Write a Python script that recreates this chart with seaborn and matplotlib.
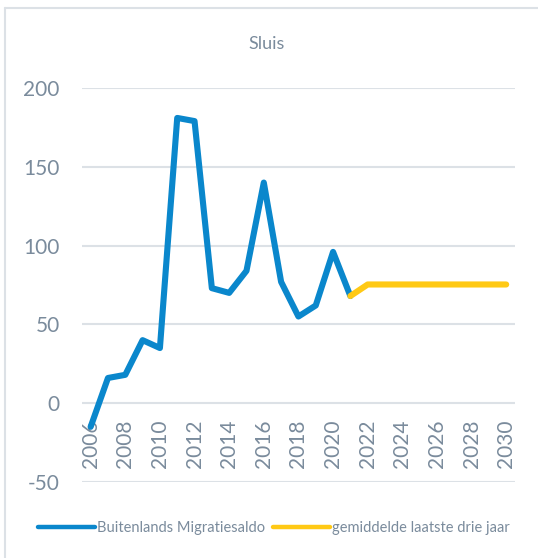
import matplotlib
matplotlib.use("Agg")
import matplotlib.pyplot as plt
from matplotlib.lines import Line2D
import seaborn as sns
import pandas as pd

# Net foreign migration for Sluis, plus the three-year average carried forward
years = [2006, 2007, 2008, 2009, 2010, 2011, 2012, 2013, 2014, 2015,
         2016, 2017, 2018, 2019, 2020, 2021]
migratiesaldo = [-15, 16, 18, 40, 35, 181, 179, 73, 70, 84,
                 140, 77, 55, 62, 96, 68]
avg_years = [2021, 2022, 2023, 2024, 2025, 2026, 2027, 2028, 2029, 2030]
gemiddelde = [68] + [75.33] * 9
xticks = list(range(2006, 2031, 2))
yticks = [-50, 0, 50, 100, 150, 200]

BLUE = "#0A87CC"
YELLOW = "#FFC915"
TEXT = "#7A8B9C"
GRID = "#DCE1E6"

sns.set_theme(style="white")
plt.rcParams["font.family"] = ["Lato", "DejaVu Sans"]
plt.rcParams["axes.unicode_minus"] = False

fig = plt.figure(figsize=(5.38, 5.58), dpi=100)
ax = fig.add_axes([0.1524, 0.1362, 0.8046, 0.7061])

df_hist = pd.DataFrame({"jaar": years, "saldo": migratiesaldo})
df_avg = pd.DataFrame({"jaar": avg_years, "saldo": gemiddelde})

sns.lineplot(data=df_hist, x="jaar", y="saldo", ax=ax, color=BLUE,
             linewidth=4.4, solid_capstyle="round", zorder=3)
sns.lineplot(data=df_avg, x="jaar", y="saldo", ax=ax, color=YELLOW,
             linewidth=4.4, solid_capstyle="round", zorder=4)

for s in ax.spines.values():
    s.set_visible(False)
# category labels sit at the zero line
ax.spines["bottom"].set_position(("data", 0))

ax.set_xlim(2005.5, 2030.5)
ax.set_ylim(-50, 200)
ax.set_yticks(yticks)
ax.set_xticks(xticks)
ax.set_xticklabels([str(x) for x in xticks], rotation=90, va="top")
ax.set_xlabel("")
ax.set_ylabel("")

ax.grid(axis="y", color=GRID, linewidth=1.5)
ax.grid(axis="x", visible=False)
ax.set_axisbelow(True)
ax.tick_params(axis="x", length=0, pad=12, labelsize=15, colors=TEXT,
               labelrotation=90)
ax.tick_params(axis="y", length=0, pad=16, labelsize=15, colors=TEXT)

fig.text(267 / 538, 1 - 44 / 558, "Sluis", ha="center", va="center",
         fontsize=13, color=TEXT)

handles = [
    Line2D([], [], color=BLUE, linewidth=3.2, solid_capstyle="round"),
    Line2D([], [], color=YELLOW, linewidth=3.2, solid_capstyle="round"),
]
fig.legend(handles, ["Buitenlands Migratiesaldo", "gemiddelde laatste drie jaar"],
           loc="center", bbox_to_anchor=(274 / 538, 1 - 528 / 558), ncol=2,
           frameon=False, fontsize=10.5, labelcolor=TEXT, handlelength=3.9,
           handletextpad=0.15, columnspacing=0.5)

# chart frame edges
fig.add_artist(Line2D([5 / 538, 1], [1 - 8 / 558, 1 - 8 / 558],
                      transform=fig.transFigure, color=GRID, linewidth=1.5))
fig.add_artist(Line2D([5 / 538, 5 / 538], [0, 1 - 8 / 558],
                      transform=fig.transFigure, color=GRID, linewidth=1.5))

fig.savefig("out.png", dpi=100)
